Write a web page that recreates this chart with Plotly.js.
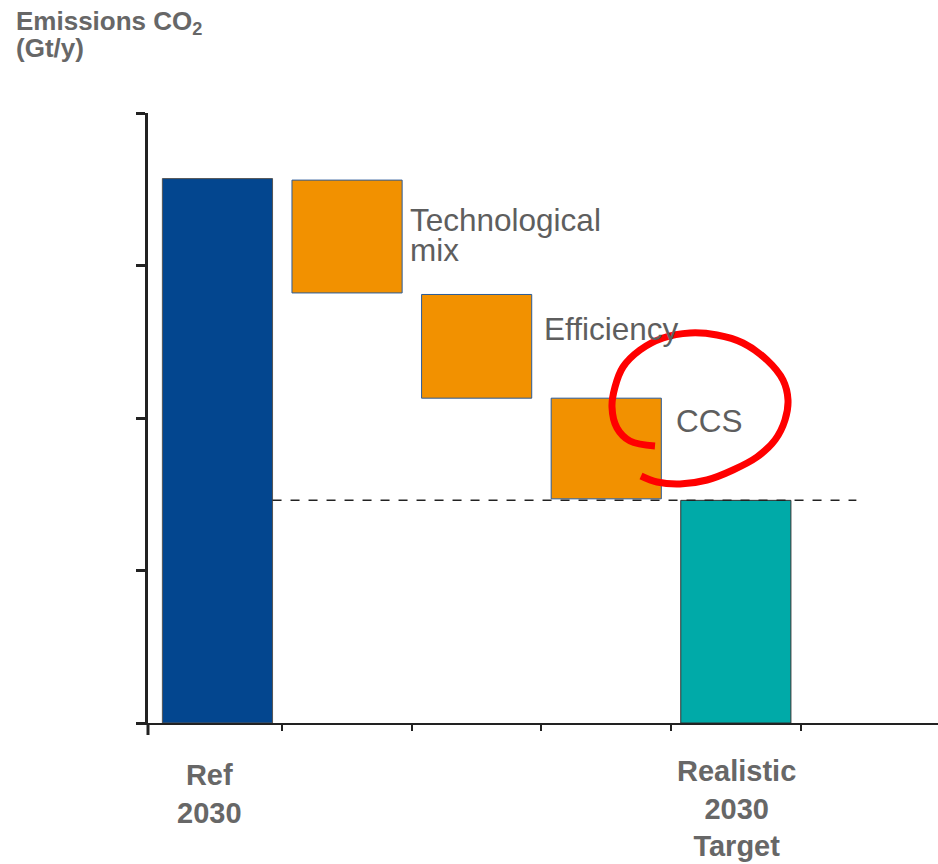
<!DOCTYPE html>
<html>
<head>
<meta charset="utf-8">
<script src="https://cdn.plot.ly/plotly-3.0.1.min.js"></script>
<style>html,body{margin:0;padding:0;background:#fff;}#chart{width:938px;height:864px;}</style>
</head>
<body>
<div id="chart"></div>
<script>
// ---- data ----
const categories = ['Ref 2030', 'Technological mix', 'Efficiency', 'CCS', 'Realistic 2030 Target'];
const barLength = [3.57, 0.74, 0.68, 0.66, 1.46];   // Gt/y
const barBase = [0, 2.82, 2.13, 1.47, 0];
const barColors = ['#03468f', '#f29100', '#f29100', '#f29100', '#00aaa8'];
const barOutline = ['#555555', '#2a5b9a', '#2a5b9a', '#2a5b9a', '#333333'];
const stepLabels = [
  {i: 1, lines: ['Technological', 'mix']},
  {i: 2, lines: ['Efficiency']},
  {i: 3, lines: ['CCS']}
];
const axisLabels = [{i: 0, text: 'Ref<br>2030'}, {i: 4, text: 'Realistic<br>2030<br>Target'}];
const yTickVals = [0, 1, 2, 3, 4];
// hand-drawn red circle around "CCS" (pixel sketch points)
const circlePx = [[655,446],[630,441],[617,428],[612,407],[615,387],[623,367],[640,350],[663,338],[690,333],[717,335],[743,343],[767,360],[783,380],[788,400],[785,420],[775,440],[757,457],[733,470],[707,480],[680,484],[657,482],[641,476]];

// ---- layout geometry ----
const W = 938, H = 864, L = 148, R = 0, T = 113, B = 141;
const xr = [-0.536, 5.56], yr = [0, 4];
const pw = W - L - R, ph = H - T - B;
const px2x = p => xr[0] + (p - L) / pw * (xr[1] - xr[0]);
const px2y = p => yr[0] + (T + ph - p) / ph * (yr[1] - yr[0]);
const barWidth = 0.85;
const xs = categories.map((c, i) => i);
const grey = '#5e5e5e';
const boldGrey = '#676767';
const font = 'Arial, "Liberation Sans", sans-serif';

const traces = [{
  type: 'bar',
  x: xs,
  y: barLength,
  base: barBase,
  width: barWidth,
  marker: {color: barColors, line: {color: barOutline, width: 1}},
  hoverinfo: 'skip',
  showlegend: false
}, {
  type: 'scatter',
  mode: 'lines',
  x: circlePx.map(p => px2x(p[0])),
  y: circlePx.map(p => px2y(p[1])),
  line: {color: '#ff0000', width: 7, shape: 'spline', smoothing: 1},
  cliponaxis: false,
  hoverinfo: 'skip',
  showlegend: false
}];

const annotations = [];
// step labels
const labelOffsetPx = [0, 6, 10, 13, 0];
const labelLineHeight = 30;
stepLabels.forEach(s => {
  const rightPx = L + (s.i + barWidth / 2 - xr[0]) / (xr[1] - xr[0]) * pw;
  s.lines.forEach((ln, k) => {
    annotations.push({
      x: px2x(rightPx + labelOffsetPx[s.i]), xref: 'x', xanchor: 'left',
      y: barBase[s.i] + barLength[s.i], yref: 'y', yanchor: 'top',
      yshift: -(s.i === 1 ? 20 : s.i === 2 ? 15 : 3) - k * labelLineHeight,
      text: ln, showarrow: false,
      font: {family: font, size: 31.5, color: grey}
    });
  });
});
// category labels under the axis
annotations.push({x: axisLabels[0].i, xshift: -8, xref: 'x', xanchor: 'center', y: (T + ph - 794) / ph, yref: 'paper', yanchor: 'middle',
  text: '<b>' + axisLabels[0].text + '</b>', showarrow: false, font: {family: font, size: 29, color: boldGrey}});
annotations.push({x: axisLabels[1].i, xshift: 1, xref: 'x', xanchor: 'center', y: (T + ph - 808) / ph, yref: 'paper', yanchor: 'middle',
  text: '<b>' + axisLabels[1].text + '</b>', showarrow: false, font: {family: font, size: 29, color: boldGrey}});
// y axis title
annotations.push({x: (14 - L) / pw, xref: 'paper', xanchor: 'left', y: (T + ph - 22) / ph, yref: 'paper', yanchor: 'middle',
  text: '<b>Emissions CO<sub>2</sub></b>', showarrow: false, font: {family: font, size: 26, color: boldGrey}});
annotations.push({x: (14 - L) / pw, xref: 'paper', xanchor: 'left', y: (T + ph - 48) / ph, yref: 'paper', yanchor: 'middle',
  text: '<b>(Gt/y)</b>', showarrow: false, font: {family: font, size: 26, color: boldGrey}});

const targetVal = barBase[4] + barLength[4];
const shapes = [{
  type: 'line', xref: 'x', yref: 'y',
  x0: xs[0] + barWidth / 2, x1: xs[4] + 0.93, y0: targetVal, y1: targetVal,
  line: {color: '#222', width: 1.5, dash: 'dash'}
}, {
  type: 'line', xref: 'paper', yref: 'paper', x0: 0, x1: 0, y0: 0, y1: -12 / ph,
  line: {color: '#222', width: 3}
}];

const layout = {
  width: W, height: H,
  margin: {l: L, r: R, t: T, b: B, pad: 0},
  paper_bgcolor: '#fff', plot_bgcolor: '#fff',
  showlegend: false,
  xaxis: {
    range: xr, showgrid: false, zeroline: false,
    showline: true, linecolor: '#222', linewidth: 2,
    ticks: 'outside', ticklen: 6, tickwidth: 2, tickcolor: '#222',
    tickvals: [0.5, 1.5, 2.5, 3.5, 4.5], showticklabels: false, fixedrange: true
  },
  yaxis: {
    range: yr, showgrid: false, zeroline: false,
    showline: true, linecolor: '#222', linewidth: 3,
    ticks: 'outside', ticklen: 9, tickwidth: 3, tickcolor: '#222',
    tickvals: yTickVals, showticklabels: false, fixedrange: true
  },
  annotations: annotations,
  shapes: shapes
};

Plotly.newPlot('chart', traces, layout, {displayModeBar: false, staticPlot: true});
</script>
</body>
</html>
